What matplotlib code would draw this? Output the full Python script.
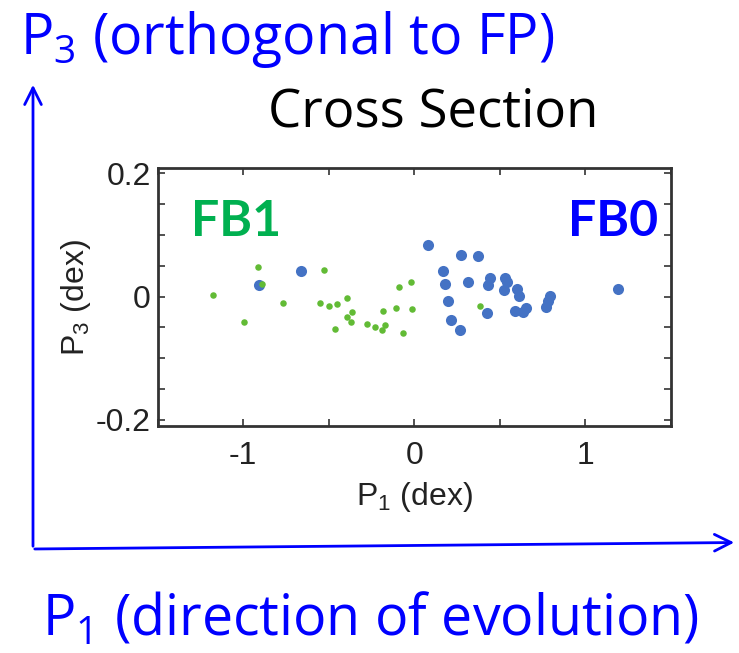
import matplotlib
matplotlib.use("Agg")
import matplotlib.pyplot as plt
from matplotlib.patches import FancyArrowPatch
from matplotlib.ticker import MultipleLocator, FixedLocator

# FB0 (blue) points
fb0_x = [0.082, 0.273, 0.371, 0.170, 0.178, 0.312, 0.442, 0.429, 0.527, 0.540,
         0.526, 0.601, 0.614, 0.198, 0.424, 0.216, 0.264, 0.591, 0.634, 0.650,
         0.792, 0.782, 0.771, 1.189, -0.660, -0.909]
fb0_y = [0.084, 0.068, 0.065, 0.042, 0.021, 0.023, 0.030, 0.018, 0.030, 0.024,
         0.011, 0.012, 0.001, -0.008, -0.027, -0.038, -0.054, -0.024, -0.025, -0.018,
         0.001, -0.007, -0.017, 0.013, 0.042, 0.018]

# FB1 (green) points
fb1_x = [-1.177, -0.911, -0.893, -0.998, -0.770, -0.527, -0.551, -0.500, -0.453, -0.395,
         -0.362, -0.391, -0.372, -0.463, -0.276, -0.230, -0.171, -0.187, -0.181, -0.109,
         -0.064, -0.088, -0.021, -0.014, 0.381]
fb1_y = [0.002, 0.048, 0.020, -0.041, -0.010, 0.043, -0.010, -0.016, -0.012, -0.003,
         -0.025, -0.033, -0.042, -0.053, -0.045, -0.049, -0.046, -0.055, -0.024, -0.018,
         -0.059, 0.015, 0.023, -0.020, -0.015]

x_ticks = [-1, 0, 1]
x_ticklabels = ["-1", "0", "1"]
y_ticks = [-0.2, 0, 0.2]
y_ticklabels = ["-0.2", "0", "0.2"]

W, H = 739, 653
fig = plt.figure(figsize=(W / 100, H / 100), dpi=100)

ax = fig.add_axes([157.7 / W, 1 - 426 / H, (671 - 157.7) / W, (426 - 168.3) / H])
ax.scatter(fb0_x, fb0_y, s=64, color="#4472C4", zorder=2, linewidths=0)
ax.scatter(fb1_x, fb1_y, s=22, color="#62BB35", zorder=3, linewidths=0)
ax.set_xlim(-1.5, 1.5)
ax.set_ylim(-0.21, 0.208)
ax.xaxis.set_major_locator(FixedLocator(x_ticks))
ax.set_xticklabels(x_ticklabels)
ax.xaxis.set_minor_locator(MultipleLocator(0.5))
ax.yaxis.set_major_locator(FixedLocator(y_ticks))
ax.set_yticklabels(y_ticklabels)
ax.yaxis.set_minor_locator(MultipleLocator(0.05))
ax.tick_params(which="both", direction="in", top=True, right=True,
               length=5, width=1.2, color="#333333")
ax.tick_params(axis="x", which="major", labelsize=23, pad=11)
ax.tick_params(axis="y", which="major", labelsize=23, pad=5)
for lab in ax.get_xticklabels() + ax.get_yticklabels():
    lab.set_family("Liberation Sans")
    lab.set_color("#222222")
for sp in ax.spines.values():
    sp.set_linewidth(2)
    sp.set_color("#333333")

ax.set_xlabel("P$_{\\mathregular{1}}$ (dex)", fontsize=23, family="Liberation Sans",
              color="#222222", labelpad=6)
ax.set_ylabel("P$_{\\mathregular{3}}$ (dex)", fontsize=23, family="Liberation Sans",
              color="#222222", labelpad=2)

ax.text(0.065, 0.795, "FB1", transform=ax.transAxes, fontsize=36, fontweight="bold",
        color="#00B050", family="Lato", va="center", ha="left")
ax.text(0.975, 0.795, "FB0", transform=ax.transAxes, fontsize=36, fontweight="bold",
        color="#0000FF", family="Lato", va="center", ha="right")

# outer arrows
def fx(px):
    return px / W

def fy(py):
    return 1 - py / H

a1 = FancyArrowPatch((fx(33), fy(549)), (fx(33), fy(82)), transform=fig.transFigure,
                     arrowstyle="->,head_length=8,head_width=4", color="#0000FF",
                     lw=2, mutation_scale=1.5)
a2 = FancyArrowPatch((fx(32), fy(549)), (fx(737), fy(542.5)), transform=fig.transFigure,
                     arrowstyle="->,head_length=8,head_width=4", color="#0000FF",
                     lw=2, mutation_scale=1.5)
fig.add_artist(a1)
fig.add_artist(a2)

fig.text(fx(20), fy(40), "P$_{\\mathregular{3}}$ (orthogonal to FP)", fontsize=40,
         family="Open Sans", color="#0000FF", ha="left", va="center")
fig.text(fx(433), fy(113), "Cross Section", fontsize=38, family="Open Sans",
         color="black", ha="center", va="center")
fig.text(fx(42), fy(620), "P$_{\\mathregular{1}}$ (direction of evolution)", fontsize=40,
         family="Open Sans", color="#0000FF", ha="left", va="center")

fig.savefig("out.png", dpi=100)
